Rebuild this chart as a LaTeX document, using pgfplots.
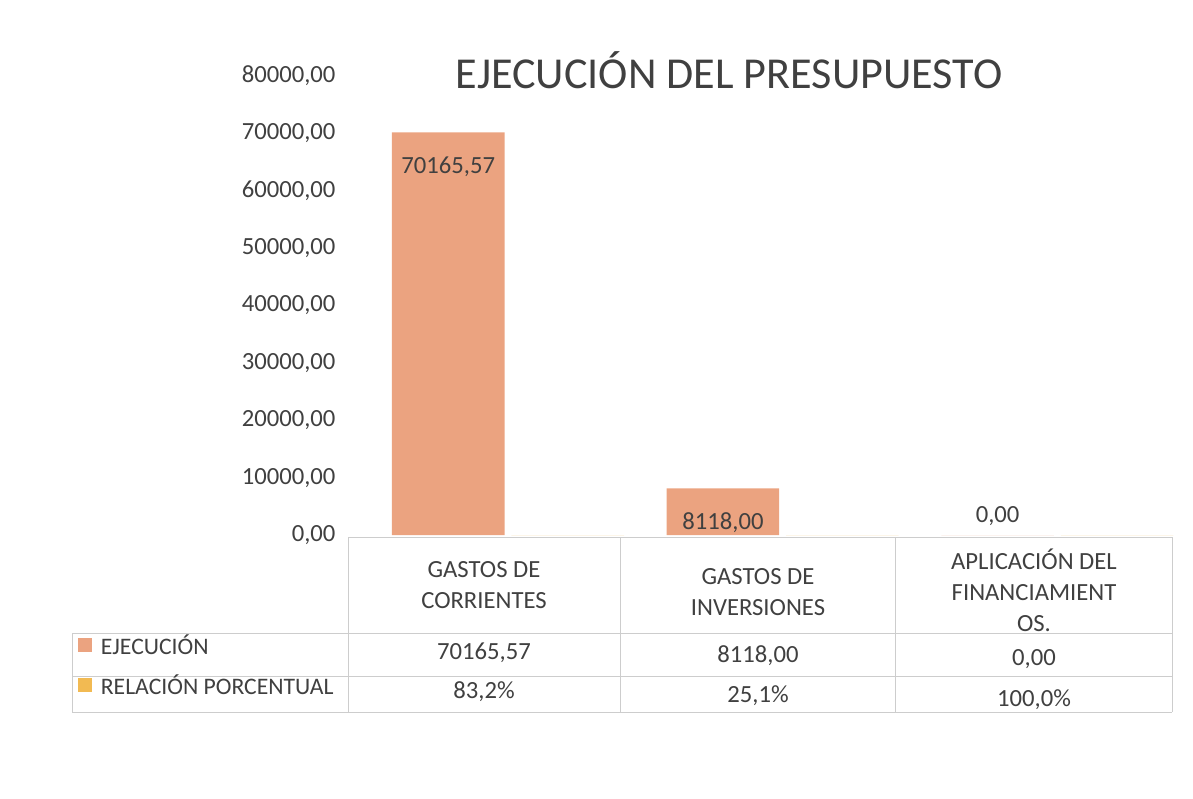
\documentclass[border=0pt]{standalone}
\usepackage{pgfplots}
\pgfplotsset{compat=1.18}
\usepackage{fontspec}
\setmainfont{Carlito}
\definecolor{barc}{RGB}{235,163,128}
\definecolor{yel}{RGB}{242,186,82}
\definecolor{txt}{RGB}{64,64,64}
\definecolor{tbl}{RGB}{205,205,205}
\begin{document}
\begin{tikzpicture}
\begin{scope}[x=0.6pt,y=-0.6pt]
\useasboundingbox (0,0) rectangle (1193,798);
\end{scope}
\begin{axis}[
  at={(348*0.6pt,-535*0.6pt)}, anchor=south west,
  scale only axis, width=824*0.6pt, height=459*0.6pt,
  xmin=-0.5, xmax=2.5, ymin=0, ymax=80000,
  axis line style={draw=none},
  xtick=\empty,
  ytick={0,10000,...,80000},
  major tick length=0pt,
  /pgf/number format/assume math mode=true,
  yticklabel style={font=\fontsize{14.8}{16}\selectfont, text=txt, xshift=-4pt,
    /pgf/number format/.cd, fixed, fixed zerofill, precision=2, use comma, 1000 sep={}},
  scaled y ticks=false,
  ybar, bar width=0.41,
  clip=false,
  every node near coord/.append style={font=\fontsize{14.8}{16}\selectfont, text=txt},
]
\addplot[fill=barc, draw=none, bar shift=-0.135,
  nodes near coords={\pgfmathprintnumber[fixed,fixed zerofill,precision=2,use comma,1000 sep={},assume math mode=true]{\pgfplotspointmeta}},
  every node near coord/.append style={anchor=north, yshift=-11pt}]
  coordinates {(0,70165.57) (1,8118.00)};
\addplot[fill=barc, draw=none, bar shift=-0.135,
  nodes near coords={\pgfmathprintnumber[fixed,fixed zerofill,precision=2,use comma,1000 sep={},assume math mode=true]{\pgfplotspointmeta}},
  every node near coord/.append style={anchor=south, yshift=2pt}]
  coordinates {(2,0)};
\addplot[fill=yel, draw=none, bar shift=0.3]
  coordinates {(0,0.832) (1,0.251) (2,1.0)};
\end{axis}
\begin{scope}[x=0.6pt,y=-0.6pt]
\node[text=txt, font=\fontsize{26.5}{30}\selectfont] at (729,70) {EJECUCIÓN DEL PRESUPUESTO};
% table lines
\draw[tbl, line width=0.6pt] (348,537) -- (1172,537);
\draw[tbl, line width=0.6pt] (72,633) -- (1172,633);
\draw[tbl, line width=0.6pt] (72,676) -- (1172,676);
\draw[tbl, line width=0.6pt] (72,712) -- (1172,712);
\draw[tbl, line width=0.6pt] (72,633) -- (72,712);
\foreach \xx in {348,620,895,1172} \draw[tbl, line width=0.6pt] (\xx,537) -- (\xx,712);
% header
\tikzset{cell/.style={text=txt, font=\fontsize{14.8}{18.5}\selectfont, align=center}}
\node[cell] at (484,585) {GASTOS DE\\CORRIENTES};
\node[cell] at (758,592) {GASTOS DE\\INVERSIONES};
\node[cell] at (1034,590) {APLICACIÓN DEL\\FINANCIAMIENT\\OS.};
% rows
\node[cell] at (484,653) {70165,57};
\node[cell] at (758,656) {8118,00};
\node[cell] at (1034,659) {0,00};
\node[cell] at (484,692) {83,2\%};
\node[cell] at (758,696) {25,1\%};
\node[cell] at (1034,700) {100,0\%};
% legend keys
\fill[barc] (78,638) rectangle (92,652);
\node[cell, anchor=west, font=\fontsize{14.2}{16}\selectfont] at (95,645) {EJECUCIÓN};
\fill[yel] (78,678) rectangle (92,692);
\node[cell, anchor=west, font=\fontsize{14.2}{16}\selectfont] at (95,685) {RELACIÓN PORCENTUAL};
\end{scope}
\end{tikzpicture}
\end{document}
